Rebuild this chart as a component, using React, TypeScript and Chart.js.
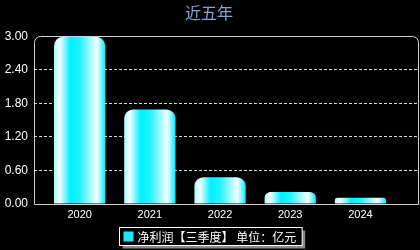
import React, { useEffect, useRef } from "react";
import { Chart, registerables } from "chart.js";

Chart.register(...registerables);

const categories = ["2020", "2021", "2022", "2023", "2024"];
const netProfit = [2.99, 1.69, 0.48, 0.215, 0.11];
const yTicks = [0, 0.6, 1.2, 1.8, 2.4, 3.0];
const titleText = "近五年";
const legendText = "净利润【三季度】 单位：亿元";

const FONT = "'Noto Sans CJK SC', 'DejaVu Sans', sans-serif";
const NUMFONT = "'Liberation Sans', Arial, sans-serif";

const gradientPlugin = {
  id: "barGradient",
  beforeDatasetsDraw(chart: any) {
    const ctx = chart.ctx;
    const meta = chart.getDatasetMeta(0);
    meta.data.forEach((el: any) => {
      const w = el.width;
      const x0 = el.x - w / 2;
      const g = ctx.createLinearGradient(x0, 0, x0 + w, 0);
      g.addColorStop(0, "#9ffcff");
      g.addColorStop(0.1, "#ffffff");
      g.addColorStop(0.32, "#00f0ff");
      g.addColorStop(0.5, "#22f2ff");
      g.addColorStop(0.84, "#f4ffff");
      g.addColorStop(1, "#00ecff");
      el.options = Object.assign(Object.create(Object.getPrototypeOf(el.options)), el.options, {
        backgroundColor: g,
      });
    });
  },
};

const framePlugin = {
  id: "frame",
  afterDatasetsDraw(chart: any) {
    const { ctx, chartArea } = chart;
    const l = Math.round(chartArea.left) + 0.5;
    const r = Math.round(chartArea.right) + 0.5;
    const t = Math.round(chartArea.top) + 0.5;
    const b = Math.round(chartArea.bottom) + 0.5;
    const rad = 6;
    ctx.save();
    ctx.strokeStyle = "#d0d0d0";
    ctx.lineWidth = 1;
    ctx.beginPath();
    ctx.moveTo(l, b);
    ctx.lineTo(l, t + rad);
    ctx.arcTo(l, t, l + rad, t, rad);
    ctx.lineTo(r - rad, t);
    ctx.arcTo(r, t, r, t + rad, rad);
    ctx.lineTo(r, b);
    ctx.closePath();
    ctx.stroke();
    ctx.restore();
  },
  afterDraw(chart: any) {
    const { ctx } = chart;
    ctx.save();
    ctx.font = `12px ${FONT}`;
    const tw = ctx.measureText(legendText).width;
    const sq = 10;
    const boxW = 4 + sq + 4 + tw + 6;
    const boxH = 18;
    const cx = chart.width / 2;
    const x = Math.round(cx - boxW / 2) + 0.5;
    const y = 227.5;
    ctx.fillStyle = "#888888";
    ctx.fillRect(x + 3, y + 3, boxW, boxH);
    ctx.fillStyle = "#000000";
    ctx.fillRect(x, y, boxW, boxH);
    ctx.strokeStyle = "#ffffff";
    ctx.lineWidth = 1;
    ctx.strokeRect(x, y, boxW, boxH);
    ctx.fillStyle = "#22e6f5";
    ctx.fillRect(x + 4, y + 4, sq, sq);
    ctx.fillStyle = "#ffffff";
    ctx.textBaseline = "middle";
    ctx.fillText(legendText, x + 4 + sq + 4, y + boxH / 2 + 0.5);
    ctx.restore();
  },
};

export default function App() {
  const ref = useRef<HTMLCanvasElement>(null);
  useEffect(() => {
    document.body.style.margin = "0";
    document.body.style.background = "#000";
    const chart = new Chart(ref.current as HTMLCanvasElement, {
      type: "bar",
      data: {
        labels: categories,
        datasets: [
          {
            label: legendText,
            data: netProfit.map((v, i) => ({ x: i, y: v })) as any,
            backgroundColor: "#00f0ff",
            borderWidth: 0,
            borderSkipped: "bottom",
            borderRadius: { topLeft: 9, topRight: 9, bottomLeft: 0, bottomRight: 0 },
            barPercentage: 0.73,
            categoryPercentage: 1,
          },
        ],
      },
      options: {
        animation: false,
        responsive: false,
        maintainAspectRatio: false,
        layout: { padding: { left: 0, right: 2, top: 0, bottom: 26 } },
        plugins: {
          legend: { display: false },
          tooltip: { enabled: false },
          title: {
            display: true,
            text: titleText,
            color: "#8aa2cc",
            font: { family: FONT, size: 16, weight: "normal" },
            padding: { top: 3, bottom: 14 },
          },
        },
        scales: {
          x: {
            type: "linear",
            min: -0.65,
            max: 4.82,
            offset: false,
            grid: { display: false, drawTicks: false },
            border: { display: false },
            afterBuildTicks(scale: any) {
              scale.ticks = categories.map((_, i) => ({ value: i }));
            },
            ticks: {
              color: "#ffffff",
              font: { family: NUMFONT, size: 11 },
              padding: 4,
              autoSkip: false,
              maxRotation: 0,
              callback: (v: any) => categories[Math.round(Number(v))] ?? "",
            },
            afterFit(scale: any) {
              scale.height = 20;
            },
          },
          y: {
            min: 0,
            max: 3,
            afterBuildTicks(scale: any) {
              scale.ticks = yTicks.map((v) => ({ value: v }));
            },
            afterFit(scale: any) {
              scale.width = 34;
            },
            grid: {
              drawTicks: false,
              color: (c: any) =>
                c.tick && (c.tick.value === 0 || c.tick.value === 3) ? "rgba(0,0,0,0)" : "#c8e0e0",
              lineWidth: 1,
            },
            border: { display: false, dash: [3, 2] },
            ticks: {
              color: "#ffffff",
              font: { family: NUMFONT, size: 12 },
              padding: 6,
              callback: (v: any) => Number(v).toFixed(2),
            },
          },
        },
      },
      plugins: [gradientPlugin, framePlugin],
    });
    return () => chart.destroy();
  }, []);
  return (
    <div style={{ width: 420, height: 250, background: "#000" }}>
      <canvas ref={ref} width={420} height={250} style={{ display: "block" }} />
    </div>
  );
}
